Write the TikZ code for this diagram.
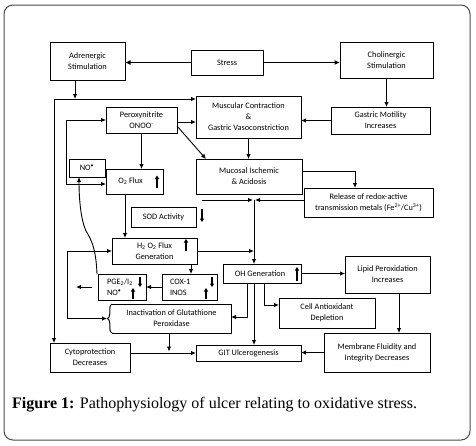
\documentclass[tikz,border=0pt]{standalone}
\usepackage{fontspec}
\setmainfont{Carlito}
\newfontfamily\capfont{Liberation Serif}
\usetikzlibrary{arrows.meta,calc,decorations.pathreplacing}
\begin{document}
\begin{tikzpicture}[x=1pt,y=-1pt,
  blk/.style={draw=black, line width=1pt, fill=white, inner sep=1pt, outer sep=0pt,
    align=center, font=\fontsize{8.3}{11}\selectfont},
  arr/.style={line width=0.9pt, -{Latex[length=5pt,width=4.5pt]}},
  both/.style={line width=0.9pt, {Latex[length=5pt,width=4.5pt]}-{Latex[length=5pt,width=4.5pt]}},
  thickarr/.style={line width=1.6pt, -{Latex[length=5.5pt,width=5pt]}},
  symarr/.style={line width=1.2pt, -{Triangle[length=3.5pt,width=4.2pt]}}]
\useasboundingbox (0,0) rectangle (476,445);
\fill[white] (0,0) rectangle (476,445);
\draw[line width=1pt, draw=black!70, rounded corners=9pt] (4,5) rectangle (470,440);

% boxes
\node[blk, minimum width=75, minimum height=38] (adr) at (87.5,61) {Adrenergic\\Stimulation};
\node[blk, minimum width=72, minimum height=25] (stress) at (227,62.5) {Stress};
\node[blk, minimum width=93, minimum height=36] (chol) at (386.5,60) {Cholinergic\\Stimulation};
\node[blk, minimum width=99, minimum height=27] (gmot) at (380.5,120.5) {Gastric Motility\\Increases};
\node[blk, minimum width=105, minimum height=42] (musc) at (248.5,117) {Muscular Contraction\\\&\\Gastric Vasoconstriction};
\node[blk, minimum width=71, minimum height=26] (perox) at (141.5,120) {Peroxynitrite\\ONOO\textsuperscript{-}};
\node[blk, minimum width=36, minimum height=18] (no) at (87,168) {NO\textsuperscript{•}};
\node[blk, minimum width=57, minimum height=25] (o2) at (134.5,181.5) {O\textsubscript{2} Flux\hspace{8pt}};
\node[blk, minimum width=106, minimum height=35] (mucos) at (249,176.5) {Mucosal Ischemic\\\& Acidosis};
\node[blk, minimum width=129, minimum height=29] (rel) at (368.5,202.5) {Release of redox-active\\transmission metals (Fe\textsuperscript{2+}/Cu\textsuperscript{3+})};
\node[blk, minimum width=65, minimum height=20] (sod) at (163.5,217) {SOD Activity};
\node[blk, minimum width=85, minimum height=26] (h2o2) at (154.5,251) {H\textsubscript{2} O\textsubscript{2} Flux\hspace{6pt}\\Generation};
\node[blk, minimum width=48, minimum height=26, text width=30, inner xsep=9, align=left] (pge) at (122,287) {PGE\textsubscript{2}/I\textsubscript{2}\\NO\textsuperscript{•}};
\node[blk, minimum width=55, minimum height=26, text width=39, inner xsep=8, align=left] (cox) at (189.5,287) {COX-1\\INOS};
\node[blk, minimum width=78, minimum height=19] (oh) at (262,273.5) {OH Generation\hspace{4pt}};
\node[blk, minimum width=85, minimum height=37] (lipid) at (387.5,274.5) {Lipid Peroxidation\\Increases};
\node[blk, minimum width=96, minimum height=30] (cell) at (327,313) {Cell Antioxidant\\Depletion};
\node[blk, draw=none, minimum width=119, minimum height=29] (inact) at (171.5,318.5) {Inactivation of Glutathione\\Peroxidase};
\node[blk, minimum width=80, minimum height=29] (cyto) at (90,357.5) {Cytoprotection\\Decreases};
\node[blk, minimum width=105, minimum height=16] (git) at (248.5,353) {GIT Ulcerogenesis};
\node[blk, minimum width=106, minimum height=39] (memb) at (377,352.5) {Membrane Fluidity and\\Integrity Decreases};

% brace-sided box
\draw[line width=1pt] (inact.south west) -- (inact.south east) -- (inact.north east) -- (inact.north west);
\draw[line width=1pt, decorate, decoration={brace, amplitude=4.5pt}] (inact.south west) -- (inact.north west);

% named coordinates
\coordinate (tl) at (54,99);
\coordinate (ad) at ($(adr.south)+(-12.5,0)$);
\coordinate (pe) at (177,122);
\coordinate (pd) at (177,126);
\coordinate (md) at (206,159);
\coordinate (lx) at (66,0);
\coordinate (o2in) at ($(o2.west)+(0,2.5)$);
\coordinate (rx) at (355,0);
\coordinate (mo) at ($(mucos.east)+(0,-5.5)$);
\coordinate (hj) at (254,200);
\coordinate (hl) at (202,200);
\coordinate (ox) at (125,0);
\coordinate (cx) at (191,0);
\coordinate (pl1) at (92,287);
\coordinate (pl2) at (76,287);
\coordinate (lx2) at (67,0);
\coordinate (brtip) at ($(inact.west)+(-5,0)$);
\coordinate (cx2) at (264,0);
\coordinate (cellin) at ($(cell.west)+(0,-8)$);
\coordinate (ix) at (247,0);
\coordinate (inactin) at ($(inact.east)+(0,-1.5)$);
\coordinate (mx) at (399,0);
\coordinate (iy) at (169,0);
\coordinate (inend) at (169,351.5);
\coordinate (cur) at ($(pge.north west)+(-1,0)$);
\coordinate (noin) at ($(no.south west)+(10,0)$);

% connectors
\draw[thickarr] (stress.west) -- (stress.west -| adr.east);
\draw[thickarr] (stress.east) -- (stress.east -| chol.west);
\draw[arr] (chol.south) -- (chol.south |- gmot.north);
\draw[arr] (gmot.west) -- (gmot.west -| musc.east);
\draw[arr] (ad) -- (ad |- tl);
\draw[arr] (tl) -- (tl -| musc.west);
\draw[arr] (tl) -- (tl |- cyto.north);
\draw[arr] (pe) -- (pe -| musc.west);
\draw[arr] (pd) -- (md);
\draw[arr] (perox.south) -- (perox.south |- o2.north);
\draw[both] (perox.west) -- (perox.west -| lx) -- (lx |- o2in) -- (o2in);
\draw[arr] (musc.south) -- (musc.south |- mucos.north);
\draw[arr] (mo) -| (rx |- rel.north);
\draw[arr] (hl) -- ($(hj)+(-1,0)$);
\draw[arr] (rel.west |- hj) -- ($(hj)+(1,0)$);
\draw[arr] (hj) -- (hj |- oh.north);
\draw[arr] (h2o2.east) -- (h2o2.east -| hj);
\draw[arr] (ox |- o2.south) -- (ox |- h2o2.north);
\draw[arr] (cx |- h2o2.south) -- (cx |- cox.north);
\draw[arr] (cox.west) -- (pge.east);
\draw[arr] (pl1) -- (pl2);
\draw[both] (h2o2.west) -- (h2o2.west -| lx2) -- (lx2 |- brtip) -- (brtip);
\draw[arr] (cur) .. controls (96,248) and (91,239) .. (86,231) .. controls (81,220) and (79,200) .. (noin);
\draw[arr] (oh.east) -- (oh.east -| lipid.west);
\draw[arr] (cx2 |- oh.south) |- (cellin);
\draw[arr] (ix |- oh.south) |- (inactin);
\draw[arr] (hj |- oh.south) -- (hj |- git.north);
\draw[arr] (mx |- lipid.south) -- (mx |- memb.north);
\draw[arr] (memb.west) -- (memb.west -| git.east);
\draw[arr] (cyto.east |- git.west) -- (git.west);
\draw[arr] (iy |- inact.south) -- (inend);

% symbol arrows
\draw[symarr] ($(o2.east)+(-6,6)$) -- ($(o2.east)+(-6,-6)$);
\draw[symarr] ($(sod.east)+(6,-8)$) -- ($(sod.east)+(6,5)$);
\draw[symarr] ($(h2o2.east)+(-11,0)$) -- ($(h2o2.east)+(-11,-12)$);
\draw[symarr] ($(pge.east)+(-6,-10)$) -- ($(pge.east)+(-6,0)$);
\draw[symarr] ($(pge.east)+(-13,12)$) -- ($(pge.east)+(-13,1)$);
\draw[symarr] ($(cox.east)+(-5,-10)$) -- ($(cox.east)+(-5,0)$);
\draw[symarr] ($(cox.east)+(-11,12)$) -- ($(cox.east)+(-11,1)$);
\draw[symarr] ($(oh.east)+(-4,7.5)$) -- ($(oh.east)+(-4,-6.5)$);

% caption
\node[anchor=base west, inner sep=0pt, font=\capfont\fontsize{16}{19}\selectfont] (cap) at (12,408)
  {\textbf{Figure 1:} Pathophysiology of ulcer relating to oxidative stress.};
\end{tikzpicture}
\end{document}
